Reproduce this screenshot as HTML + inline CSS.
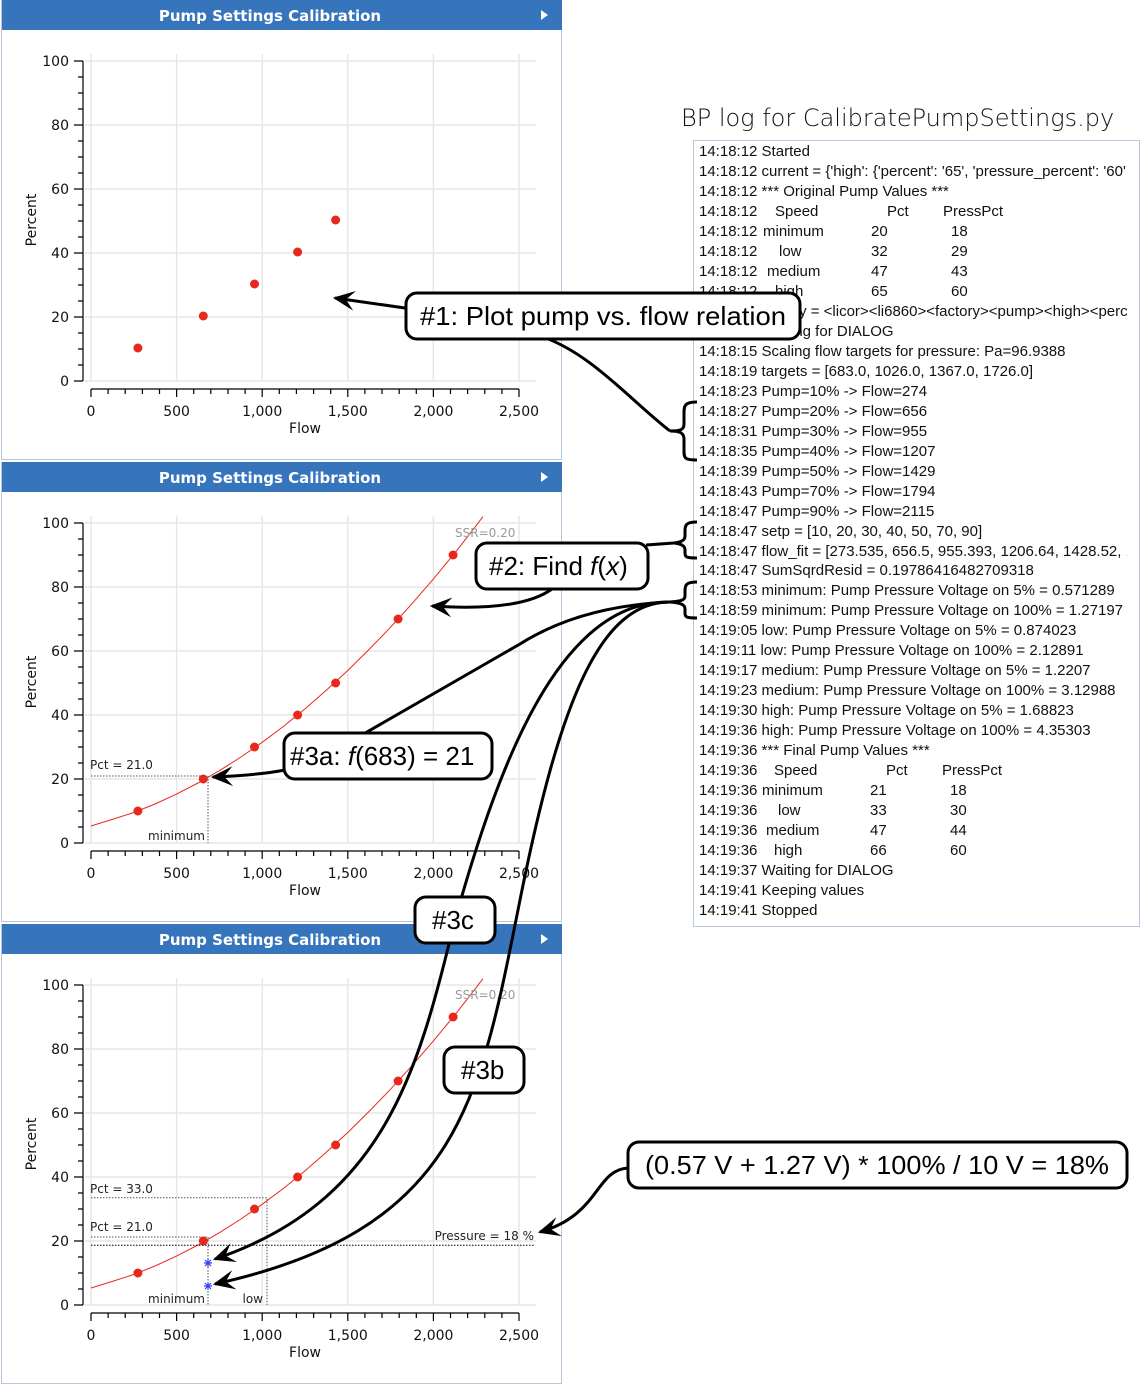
<!DOCTYPE html>
<html><head><meta charset="utf-8"><style>
html,body{margin:0;padding:0;background:#fff;}
svg{display:block;}
.t{font-family:"DejaVu Sans","Liberation Sans",sans-serif;font-size:14px;fill:#111;}
.lg{font-family:"Liberation Sans",sans-serif;font-size:15px;fill:#111;}
.co{font-family:"Liberation Sans","DejaVu Sans",sans-serif;font-size:26px;fill:#000;}
</style></head><body>
<svg width="1143" height="1386" viewBox="0 0 1143 1386" xmlns="http://www.w3.org/2000/svg">
<defs>
<marker id="ah2" viewBox="0 0 20 20" refX="18" refY="10" markerWidth="22" markerHeight="22" orient="auto" markerUnits="userSpaceOnUse">
<path d="M20,10 L0,1 L8,10 L0,19 Z" fill="#000"/>
</marker>
<clipPath id="logclip"><rect x="694" y="141" width="433" height="784"/></clipPath>
<g id="base">
<rect x="1.5" y="0.5" width="560" height="459" fill="#fff" stroke="#b8c8dc"/>
<rect x="2" y="0" width="560" height="30" fill="#3674bc"/>
<text x="270" y="21" text-anchor="middle" style="font-family:'DejaVu Sans','Liberation Sans',sans-serif;font-size:15px;font-weight:bold;fill:#fff">Pump Settings Calibration</text>
<path d="M541,10 L548,15 L541,20 Z" fill="#fff"/>
<g stroke="#e6e6e6" stroke-width="1.5">
<path d="M91,54V381M176.6,54V381M262.2,54V381M347.8,54V381M433.4,54V381M519,54V381"/>
<path d="M85,381H536M85,317H536M85,253H536M85,189H536M85,125H536M85,61H536"/>
</g>
<g stroke="#000" stroke-width="1.2" fill="none">
<path d="M83,61V381"/>
<path d="M74,381H83M74,317H83M74,253H83M74,189H83M74,125H83M74,61H83"/>
<path d="M78,365H83M78,349H83M78,333H83M78,301H83M78,285H83M78,269H83M78,237H83M78,221H83M78,205H83M78,173H83M78,157H83M78,141H83M78,109H83M78,93H83M78,77H83"/>
<path d="M91,389H519"/>
<path d="M91,389V397M176.6,389V397M262.2,389V397M347.8,389V397M433.4,389V397M519,389V397"/>
<path d="M108.1,389V394M125.2,389V394M142.4,389V394M159.5,389V394M193.7,389V394M210.8,389V394M228,389V394M245.1,389V394M279.3,389V394M296.4,389V394M313.6,389V394M330.7,389V394M364.9,389V394M382,389V394M399.2,389V394M416.3,389V394M450.5,389V394M467.6,389V394M484.8,389V394M501.9,389V394"/>
</g>
<g class="t" text-anchor="end">
<text x="69" y="386">0</text><text x="69" y="322">20</text><text x="69" y="258">40</text><text x="69" y="194">60</text><text x="69" y="130">80</text><text x="69" y="66">100</text>
</g>
<g class="t" text-anchor="middle">
<text x="91" y="416">0</text><text x="176.6" y="416">500</text><text x="262.2" y="416">1,000</text><text x="347.8" y="416">1,500</text><text x="433.4" y="416">2,000</text><text x="519" y="416">2,500</text>
<text x="305" y="433">Flow</text>
<text transform="translate(36,220) rotate(-90)">Percent</text>
</g>
</g>
<g id="fit">
<polyline fill="none" stroke="#e8281c" stroke-width="1" points="91,364 112,357.5 133.8,350.5 155,342 176.6,332.1 198,321 219.4,308.7 241,295 262.2,280.3 284,264 305,246.9 326,228.5 347.8,208.5 369,187.5 390.6,165.2 412,141.7 433.4,116.9 455,90.8 476.2,63.6 483,54.6"/>
<g fill="#e8281c">
<circle cx="137.9" cy="349" r="4.5"/><circle cx="203.3" cy="317" r="4.5"/><circle cx="254.5" cy="285" r="4.5"/><circle cx="297.6" cy="253" r="4.5"/><circle cx="335.6" cy="221" r="4.5"/><circle cx="398.1" cy="157" r="4.5"/><circle cx="453.1" cy="93" r="4.5"/>
</g>
<text x="455" y="75" style="font-family:'DejaVu Sans',sans-serif;font-size:12px;fill:#999">SSR=0.20</text>
</g>
</defs>

<use href="#base" x="0" y="0"/>
<g fill="#e8281c">
<circle cx="137.9" cy="348" r="4.5"/><circle cx="203.3" cy="316" r="4.5"/><circle cx="254.5" cy="284" r="4.5"/><circle cx="297.6" cy="252" r="4.5"/><circle cx="335.6" cy="220" r="4.5"/>
</g>

<use href="#base" x="0" y="462"/>
<g transform="translate(0,462)">
<use href="#fit"/>
<path d="M91,314H208V381" fill="none" stroke="#555" stroke-width="1" stroke-dasharray="1.5,1.5"/>
<text x="90" y="307" style="font-family:'DejaVu Sans',sans-serif;font-size:12px;fill:#222">Pct = 21.0</text>
<text x="205" y="378" text-anchor="end" style="font-family:'DejaVu Sans',sans-serif;font-size:12px;fill:#222">minimum</text>
</g>

<use href="#base" x="0" y="924"/>
<g transform="translate(0,924)">
<use href="#fit"/>
<path d="M91,273.7H267V381M91,313H208V381" fill="none" stroke="#555" stroke-width="1" stroke-dasharray="1.5,1.5"/>
<path d="M91,321.3H535" fill="none" stroke="#000" stroke-width="1" stroke-dasharray="1.5,1.5"/>
<text x="90" y="269" style="font-family:'DejaVu Sans',sans-serif;font-size:12px;fill:#222">Pct = 33.0</text>
<text x="90" y="307" style="font-family:'DejaVu Sans',sans-serif;font-size:12px;fill:#222">Pct = 21.0</text>
<text x="534" y="316" text-anchor="end" style="font-family:'DejaVu Sans',sans-serif;font-size:12px;fill:#222">Pressure = 18 %</text>
<text x="205" y="379" text-anchor="end" style="font-family:'DejaVu Sans',sans-serif;font-size:12px;fill:#222">minimum</text>
<text x="263" y="379" text-anchor="end" style="font-family:'DejaVu Sans',sans-serif;font-size:12px;fill:#222">low</text>
<g stroke="#3340ee" stroke-width="1.2">
<path d="M204,339h8M208,335v8M205,336l6,6M211,336l-6,6"/>
<path d="M204,362h8M208,358v8M205,359l6,6M211,359l-6,6"/>
</g>
</g>

<text x="681" y="126" style="font-family:'DejaVu Sans','Liberation Sans',sans-serif;font-size:24px;font-weight:300;fill:#111">BP log for CalibratePumpSettings.py</text>
<rect x="693.5" y="140.5" width="446" height="786" fill="#fff" stroke="#b8c8dc"/>
<g class="lg" clip-path="url(#logclip)">
<text x="699" y="156">14:18:12 Started</text>
<text x="699" y="176">14:18:12 current = {'high': {'percent': '65', 'pressure_percent': '60', 'flow': '1726'}}</text>
<text x="699" y="196">14:18:12 *** Original Pump Values ***</text>
<text x="699" y="216">14:18:12</text><text x="775" y="216">Speed</text><text x="887" y="216">Pct</text><text x="943" y="216">PressPct</text>
<text x="699" y="236">14:18:12</text><text x="763" y="236">minimum</text><text x="871" y="236">20</text><text x="951" y="236">18</text>
<text x="699" y="256">14:18:12</text><text x="779" y="256">low</text><text x="871" y="256">32</text><text x="951" y="256">29</text>
<text x="699" y="276">14:18:12</text><text x="767" y="276">medium</text><text x="871" y="276">47</text><text x="951" y="276">43</text>
<text x="699" y="296">14:18:12</text><text x="775" y="296">high</text><text x="871" y="296">65</text><text x="951" y="296">60</text>
<text x="699" y="316">14:18:12 factory = &lt;licor&gt;&lt;li6860&gt;&lt;factory&gt;&lt;pump&gt;&lt;high&gt;&lt;percent&gt;</text>
<text x="699" y="336">14:18:12 Waiting for DIALOG</text>
<text x="699" y="356">14:18:15 Scaling flow targets for pressure: Pa=96.9388</text>
<text x="699" y="376">14:18:19 targets = [683.0, 1026.0, 1367.0, 1726.0]</text>
<text x="699" y="396">14:18:23 Pump=10% -&gt; Flow=274</text>
<text x="699" y="416">14:18:27 Pump=20% -&gt; Flow=656</text>
<text x="699" y="436">14:18:31 Pump=30% -&gt; Flow=955</text>
<text x="699" y="456">14:18:35 Pump=40% -&gt; Flow=1207</text>
<text x="699" y="476">14:18:39 Pump=50% -&gt; Flow=1429</text>
<text x="699" y="496">14:18:43 Pump=70% -&gt; Flow=1794</text>
<text x="699" y="516">14:18:47 Pump=90% -&gt; Flow=2115</text>
<text x="699" y="536">14:18:47 setp = [10, 20, 30, 40, 50, 70, 90]</text>
<text x="699" y="556">14:18:47 flow_fit = [273.535, 656.5, 955.393, 1206.64, 1428.52, 1794.1, 2115.3]</text>
<text x="699" y="575">14:18:47 SumSqrdResid = 0.19786416482709318</text>
<text x="699" y="595">14:18:53 minimum: Pump Pressure Voltage on 5%  = 0.571289</text>
<text x="699" y="615">14:18:59 minimum: Pump Pressure Voltage on 100%  = 1.27197</text>
<text x="699" y="635">14:19:05 low: Pump Pressure Voltage on 5%  = 0.874023</text>
<text x="699" y="655">14:19:11 low: Pump Pressure Voltage on 100%  = 2.12891</text>
<text x="699" y="675">14:19:17 medium: Pump Pressure Voltage on 5%  = 1.2207</text>
<text x="699" y="695">14:19:23 medium: Pump Pressure Voltage on 100%  = 3.12988</text>
<text x="699" y="715">14:19:30 high: Pump Pressure Voltage on 5%  = 1.68823</text>
<text x="699" y="735">14:19:36 high: Pump Pressure Voltage on 100%  = 4.35303</text>
<text x="699" y="755">14:19:36 *** Final Pump Values ***</text>
<text x="699" y="775">14:19:36</text><text x="774" y="775">Speed</text><text x="886" y="775">Pct</text><text x="942" y="775">PressPct</text>
<text x="699" y="795">14:19:36</text><text x="762" y="795">minimum</text><text x="870" y="795">21</text><text x="950" y="795">18</text>
<text x="699" y="815">14:19:36</text><text x="778" y="815">low</text><text x="870" y="815">33</text><text x="950" y="815">30</text>
<text x="699" y="835">14:19:36</text><text x="766" y="835">medium</text><text x="870" y="835">47</text><text x="950" y="835">44</text>
<text x="699" y="855">14:19:36</text><text x="774" y="855">high</text><text x="870" y="855">66</text><text x="950" y="855">60</text>
<text x="699" y="875">14:19:37 Waiting for DIALOG</text>
<text x="699" y="895">14:19:41 Keeping values</text>
<text x="699" y="915">14:19:41 Stopped</text>
</g>

<g fill="none" stroke="#000" stroke-width="3">
<path d="M697,402 C684,402 684,406 684,414 L684,424 C684,430 680,431 670,431 C680,431 684,433 684,439 L684,450 C684,458 684,460 697,460"/>
<path d="M697,522 C686,522 685,525 685,531 L685,536 C685,540 682,542 674,543 C682,544 685,546 685,550 L685,553 C685,557 686,558 697,558"/>
<path d="M697,582 C686,582 685,585 685,591 L685,596 C685,600 682,601 670,602 C682,603 685,605 685,609 L685,613 C685,617 686,618 697,618"/>
<path d="M540,336 C590,352 630,400 670,431"/>
<path d="M646,545 L674,543"/>
<path d="M360,736 L520,644 Q580,606 670,602"/>
<path d="M670,602 C560,600 500,760 455,920 C420,1060 390,1200 215,1259" marker-end="url(#ah2)"/>
<path d="M670,602 C600,602 560,700 520,900 C480,1100 460,1230 215,1284" marker-end="url(#ah2)"/>
<path d="M405,308 L335,298" marker-end="url(#ah2)"/>
<path d="M552,589 Q520,612 432,606" marker-end="url(#ah2)"/>
<path d="M285,770 Q260,775 213,777" marker-end="url(#ah2)"/>
<path d="M628,1168 C595,1170 600,1215 540,1232" marker-end="url(#ah2)"/>
</g>

<g fill="#fff" stroke="#000" stroke-width="3">
<rect x="406" y="293" width="394" height="46" rx="11"/>
<rect x="476" y="543" width="172" height="46" rx="11"/>
<rect x="284" y="733" width="208" height="46" rx="11"/>
<rect x="415" y="897" width="80" height="46" rx="11"/>
<rect x="444" y="1047" width="80" height="46" rx="11"/>
<rect x="628" y="1142" width="499" height="46" rx="11"/>
</g>
<g class="co">
<text x="420" y="325" textLength="366" lengthAdjust="spacingAndGlyphs">#1: Plot pump vs. flow relation</text>
<text x="489" y="575">#2: Find <tspan font-style="italic">f</tspan>(<tspan font-style="italic">x</tspan>)</text>
<text x="290" y="765">#3a: <tspan font-style="italic">f</tspan>(683) = 21</text>
<text x="432" y="929">#3c</text>
<text x="461" y="1079">#3b</text>
<text x="645" y="1174" textLength="464" lengthAdjust="spacingAndGlyphs">(0.57 V + 1.27 V) * 100% / 10 V = 18%</text>
</g>
</svg>
</body></html>
